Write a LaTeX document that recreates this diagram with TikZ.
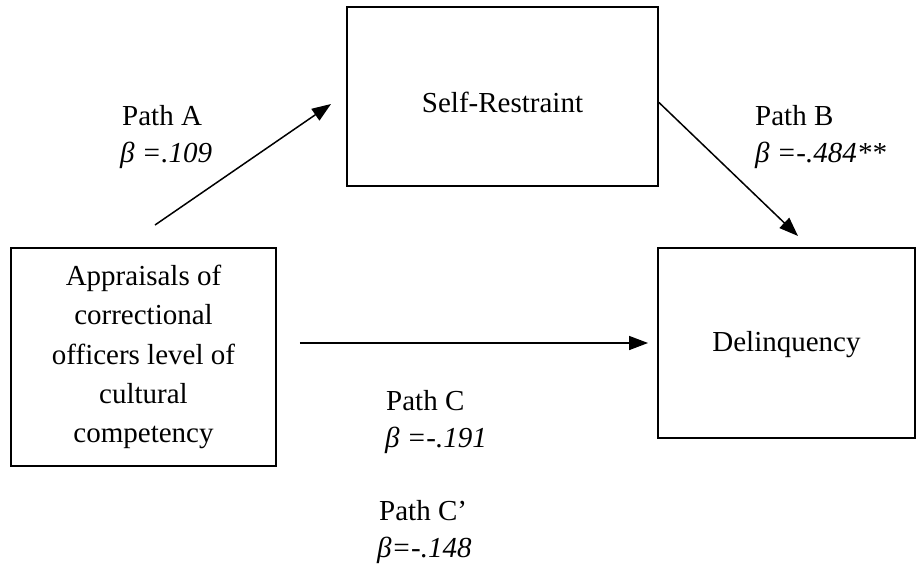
\documentclass[tikz,border=0pt]{standalone}
\usepackage{fontspec}
\setmainfont{Liberation Serif}
\usetikzlibrary{arrows.meta}
\begin{document}
\begin{tikzpicture}[x=1pt,y=-1pt,
  box/.style={draw,line width=1.9pt,align=center,font=\fontsize{29}{39.25}\selectfont},
  link/.style={line width=1.5pt,-{Triangle[length=19pt,width=14pt]}},
  lbl/.style={anchor=base west,inner sep=0pt,font=\fontsize{29}{35}\selectfont}]
\useasboundingbox (0,0) rectangle (916,565);
% boxes
\node [box,minimum width=311pt,minimum height=179pt,text height=33pt] (s) at (502.5,96.5) {Self-Restraint};
\node [box,minimum width=265pt,minimum height=218pt] (a) at (143.5,357) {Appraisals of\\correctional\\officers level of\\cultural\\competency};
\node [box,minimum width=257pt,minimum height=190pt,text height=24pt] (d) at (786.5,343) {Delinquency};
% free arrow ends
\coordinate (p) at (155,225);
\coordinate (q) at (331,104);
\coordinate (r) at (798,236);
% arrows
\draw [link] (p) -- (q);
\draw [link] (s.east) ++(0,6) -- (r);
\draw [link,shorten <=23pt,shorten >=9pt] (a.east |- d.west) -- (d.west);
% path labels
\node [lbl] (la) at (122,125) {Path A};
\node [lbl] (ba) at (120,162) {\itshape β =.109};
\node [lbl] (lb) at (755,125) {Path B};
\node [lbl] (bb) at (755,162) {\itshape β =-.484**};
\node [lbl] (lc) at (386,410) {Path C};
\node [lbl] (bc) at (385,447) {\itshape β =-.191};
\node [lbl] (lcp) at (379,520) {Path C’};
\node [lbl] (bcp) at (377,557) {\itshape β=-.148};
\end{tikzpicture}
\end{document}
